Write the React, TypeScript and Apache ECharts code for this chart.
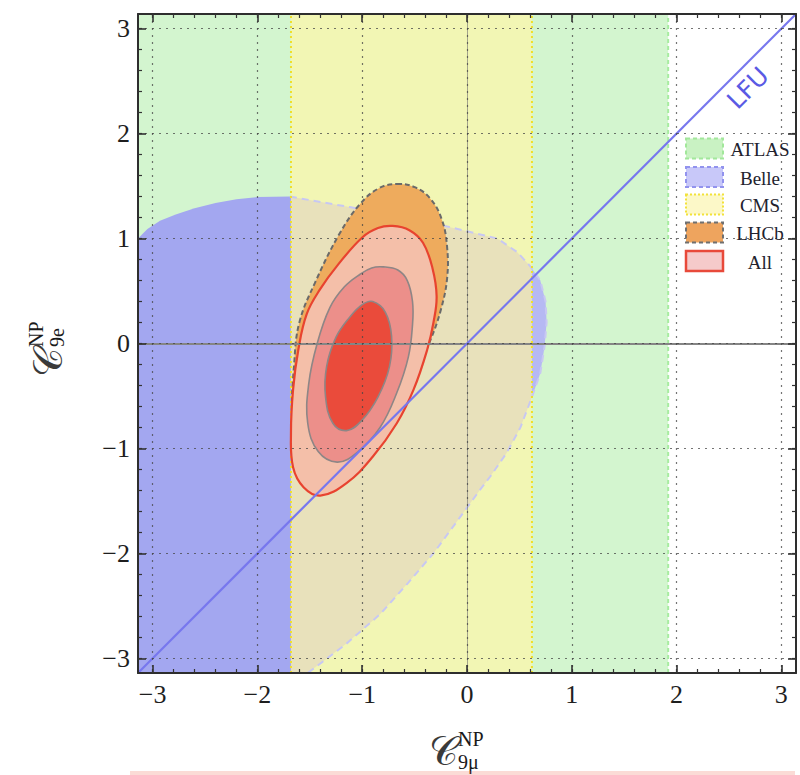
import React, { useEffect, useRef } from "react";
import * as echarts from "echarts";

// ---- axis ----
const AXIS_MIN = -3.14;
const AXIS_MAX = 3.14;
const MAJOR_TICKS = [-3, -2, -1, 0, 1, 2, 3];
const MINOR_TICKS = [
  -3, -2.8, -2.6, -2.4, -2.2, -2, -1.8, -1.6, -1.4, -1.2, -1, -0.8, -0.6, -0.4, -0.2, 0,
  0.2, 0.4, 0.6, 0.8, 1, 1.2, 1.4, 1.6, 1.8, 2, 2.2, 2.4, 2.6, 2.8, 3,
];

// ---- experiment bands (C9mu ranges) ----
const ATLAS_BAND = [-3.14, 1.92];
const CMS_BAND = [-1.68, 0.62];

// ---- Belle allowed region contour ----
const BELLE = [
  [-3.14, 1.0], [-3.05, 1.09], [-2.93, 1.17], [-2.78, 1.23], [-2.6, 1.29], [-2.4, 1.34],
  [-2.2, 1.375], [-2.0, 1.395], [-1.69, 1.4], [-1.12, 1.3],
  [-0.47, 1.19], [-0.21, 1.12], [0.0, 1.07], [0.29, 1.0], [0.48, 0.87], [0.6, 0.74],
  [0.7, 0.6], [0.75, 0.4], [0.76, 0.2], [0.74, -0.03], [0.7, -0.28], [0.62, -0.51],
  [0.51, -0.8], [0.38, -1.04], [0.22, -1.27], [0.12, -1.4], [-0.07, -1.66], [-0.32, -2.0],
  [-0.57, -2.29], [-0.83, -2.58], [-1.15, -2.86], [-1.52, -3.14], [-3.14, -3.14],
];

// ---- LHCb contour ----
const LHCB = [
  [-0.67, 1.52], [-0.5, 1.49], [-0.35, 1.38], [-0.24, 1.18], [-0.19, 0.92], [-0.19, 0.62],
  [-0.25, 0.32], [-0.35, 0.03], [-0.5, -0.3], [-0.72, -0.7], [-0.98, -1.08], [-1.25, -1.33],
  [-1.48, -1.35], [-1.62, -1.1], [-1.67, -0.7], [-1.65, -0.2], [-1.6, 0.2], [-1.45, 0.58],
  [-1.22, 1.04], [-1.02, 1.33], [-0.84, 1.48],
];

// ---- combined fit contours (3, 2, 1 sigma) ----
const ALL_3 = [
  [-0.71, 1.12], [-0.55, 1.08], [-0.42, 0.96], [-0.33, 0.72], [-0.29, 0.45], [-0.32, 0.2],
  [-0.38, -0.06], [-0.51, -0.44], [-0.67, -0.76], [-0.9, -1.08], [-1.15, -1.33], [-1.4, -1.45],
  [-1.56, -1.37], [-1.66, -1.18], [-1.68, -0.85], [-1.66, -0.44], [-1.61, -0.06], [-1.53, 0.28],
  [-1.4, 0.52], [-1.24, 0.74], [-1.0, 1.01], [-0.85, 1.1],
];
const ALL_2 = [
  [-0.8, 0.73], [-0.66, 0.7], [-0.57, 0.6], [-0.52, 0.4], [-0.52, 0.18], [-0.56, -0.13],
  [-0.67, -0.47], [-0.83, -0.8], [-1.05, -1.04], [-1.24, -1.13], [-1.42, -1.03], [-1.52, -0.76],
  [-1.51, -0.38], [-1.43, 0.0], [-1.31, 0.34], [-1.17, 0.54], [-1.02, 0.66], [-0.91, 0.72],
];
const ALL_1 = [
  [-0.9, 0.4], [-0.78, 0.3], [-0.72, 0.07], [-0.74, -0.22], [-0.85, -0.51], [-1.01, -0.74],
  [-1.15, -0.83], [-1.28, -0.76], [-1.35, -0.51], [-1.34, -0.22], [-1.25, 0.06], [-1.12, 0.25],
  [-1.0, 0.37],
];

// ---- LFU diagonal ----
const LFU = [
  [-3.14, -3.14],
  [3.14, 3.14],
];

const LEGEND_NAMES = ["ATLAS", "Belle", "CMS", "LHCb", "All"];

// ---------- helpers ----------
function intersectX(a: number[], b: number[], x: number) {
  const t = (x - a[0]) / (b[0] - a[0]);
  return [x, a[1] + t * (b[1] - a[1])];
}
function clipEdge(pts: number[][], keep: (p: number[]) => boolean, xEdge: number) {
  const out: number[][] = [];
  for (let i = 0; i < pts.length; i++) {
    const cur = pts[i];
    const prev = pts[(i + pts.length - 1) % pts.length];
    const ci = keep(cur);
    const pi = keep(prev);
    if (ci) {
      if (!pi) out.push(intersectX(prev, cur, xEdge));
      out.push(cur);
    } else if (pi) {
      out.push(intersectX(prev, cur, xEdge));
    }
  }
  return out;
}
function clipX(poly: number[][], xmin: number, xmax: number) {
  let p = clipEdge(poly, (q) => q[0] >= xmin, xmin);
  p = clipEdge(p, (q) => q[0] <= xmax, xmax);
  return p;
}
function bandRect(x: number[]) {
  return [
    [x[0], AXIS_MIN],
    [x[1], AXIS_MIN],
    [x[1], AXIS_MAX],
    [x[0], AXIS_MAX],
  ];
}

function polySeries(name: string, points: number[][], style: any, z: number, smooth = 0) {
  return {
    name,
    type: "custom",
    coordinateSystem: "cartesian2d",
    clip: true,
    silent: true,
    z,
    data: points,
    renderItem: (params: any, api: any) => {
      if (params.dataIndex !== 0) return null;
      const pts = points.map((p) => api.coord(p));
      return { type: "polygon", shape: { points: pts, smooth }, style };
    },
  };
}
function lineSeriesCustom(name: string, points: number[][], style: any, z: number) {
  return {
    name,
    type: "custom",
    coordinateSystem: "cartesian2d",
    clip: true,
    silent: true,
    z,
    data: points,
    renderItem: (params: any, api: any) => {
      if (params.dataIndex !== 0) return null;
      const pts = points.map((p) => api.coord(p));
      return { type: "polyline", shape: { points: pts }, style: { fill: "none", ...style } };
    },
  };
}

const fmt = (v: number) => (v < 0 ? "\u2212" + Math.abs(v) : String(v));
const SERIF = "'Liberation Serif', 'DejaVu Serif', serif";

function makeAxis(position: string, major: boolean, withLabels: boolean) {
  return {
    type: "value",
    min: AXIS_MIN,
    max: AXIS_MAX,
    position,
    z: 10,
    axisLine: major
      ? { show: true, onZero: false, lineStyle: { color: "#2e2e2e", width: 2 } }
      : { show: false, onZero: false },
    axisTick: {
      show: true,
      inside: true,
      length: major ? 8 : 4,
      customValues: major ? MAJOR_TICKS : MINOR_TICKS,
      lineStyle: { color: "#333", width: major ? 1.6 : 1.2 },
    },
    axisLabel: withLabels
      ? {
          show: true,
          customValues: MAJOR_TICKS,
          formatter: fmt,
          fontFamily: SERIF,
          fontSize: 26,
          color: "#1e1e1e",
          margin: 8,
        }
      : { show: false },
    splitLine: withLabels
      ? { show: true, lineStyle: { color: "rgba(70,70,70,0.75)", width: 1.2, type: [2, 5] } }
      : { show: false },
  };
}

function titleGroup(x: number, y: number, rotation: number, sub: string, supDy: number, subDy: number) {
  return {
    type: "group",
    x,
    y,
    rotation,
    children: [
      {
        type: "text",
        x: 0,
        y: 0,
        style: {
          text: "\u{1D49E}",
          font: "40px 'DejaVu Serif', 'Liberation Serif', serif",
          fill: "#3a3a3a",
          align: "center",
          verticalAlign: "middle",
        },
      },
      {
        type: "text",
        x: 15,
        y: supDy,
        style: {
          text: "NP",
          font: "20px " + SERIF,
          fill: "#1a1a1a",
          align: "left",
          verticalAlign: "middle",
        },
      },
      {
        type: "text",
        x: 15,
        y: subDy,
        style: {
          text: sub,
          font: "20px " + SERIF,
          fill: "#1a1a1a",
          align: "left",
          verticalAlign: "middle",
        },
      },
    ],
  };
}

export default function App() {
  const ref = useRef<HTMLDivElement>(null);

  useEffect(() => {
    document.body.style.margin = "0";
    if (!ref.current) return;
    const chart = echarts.init(ref.current, undefined, { renderer: "svg" });

    const belleLeft = clipX(BELLE, AXIS_MIN, CMS_BAND[0]);
    const belleMid = clipX(BELLE, CMS_BAND[0], CMS_BAND[1]);
    const belleRight = clipX(BELLE, CMS_BAND[1], AXIS_MAX);
    const belleEdge = BELLE.filter((p, i) => i < BELLE.length - 1 && p[0] >= -1.7);

    const legendStyles = [
      { fill: "#c9f2c3", stroke: "#a2e79b", lineDash: [4, 3], lineWidth: 2 },
      { fill: "#c8c8f9", stroke: "#9293ee", lineDash: [4, 3], lineWidth: 2 },
      { fill: "#fcf8c8", stroke: "#f2e23a", lineDash: [2, 2], lineWidth: 2 },
      { fill: "#eea45e", stroke: "#707070", lineDash: [4, 3], lineWidth: 2 },
      { fill: "#f5caca", stroke: "#e8493a", lineWidth: 2.5 },
    ];
    const legendY = [148.5, 177, 204.5, 232.5, 261];

    const legendEls: any[] = [];
    LEGEND_NAMES.forEach((name, i) => {
      legendEls.push({
        type: "rect",
        shape: { x: 686, y: legendY[i] - 10, width: 37, height: 20 },
        style: legendStyles[i],
        z: 100,
      });
      legendEls.push({
        type: "text",
        x: 760,
        y: legendY[i] + 1,
        style: {
          text: name,
          font: "19px " + SERIF,
          fill: "#22222e",
          align: "center",
          verticalAlign: "middle",
        },
        z: 100,
      });
    });

    const option: any = {
      animation: false,
      backgroundColor: "#ffffff",
      grid: { left: 138, top: 14, width: 658, height: 659, containLabel: false },
      xAxis: [
        makeAxis("bottom", true, true),
        makeAxis("bottom", false, false),
        makeAxis("top", true, false),
        makeAxis("top", false, false),
      ],
      yAxis: [
        makeAxis("left", true, true),
        makeAxis("left", false, false),
        makeAxis("right", true, false),
        makeAxis("right", false, false),
      ],
      series: [
        polySeries("ATLAS", bandRect(ATLAS_BAND), { fill: "#d3f5cf" }, 1),
        polySeries("CMS", bandRect(CMS_BAND), { fill: "#f2f6b4" }, 1),
        polySeries("Belle", belleLeft, { fill: "#a3a7f0" }, 2),
        polySeries("Belle-mid", belleMid, { fill: "#e8e1bb" }, 2),
        polySeries("Belle-right", belleRight, { fill: "#b6b9f3" }, 2),
        lineSeriesCustom("Belle-edge", belleEdge, { stroke: "#c8c8f2", lineWidth: 2, lineDash: [7, 5] }, 2),
        lineSeriesCustom(
          "CMS-left",
          [[CMS_BAND[0], AXIS_MIN], [CMS_BAND[0], AXIS_MAX]],
          { stroke: "#efe02a", lineWidth: 2, lineDash: [2, 3] },
          2
        ),
        lineSeriesCustom(
          "CMS-right",
          [[CMS_BAND[1], AXIS_MIN], [CMS_BAND[1], AXIS_MAX]],
          { stroke: "#efe02a", lineWidth: 2, lineDash: [2, 3] },
          2
        ),
        lineSeriesCustom(
          "ATLAS-right",
          [[ATLAS_BAND[1], AXIS_MIN], [ATLAS_BAND[1], AXIS_MAX]],
          { stroke: "#a7eca0", lineWidth: 2, lineDash: [4, 3] },
          2
        ),
        polySeries(
          "LHCb",
          LHCB,
          { fill: "#eeab5d", stroke: "#6a6a6a", lineWidth: 2, lineDash: [5, 3] },
          3,
          0.4
        ),
        polySeries("All-3", ALL_3, { fill: "#f4bfa9", stroke: "#e8432f", lineWidth: 2.2 }, 4, 0.4),
        polySeries("All-2", ALL_2, { fill: "#ec8f8a", stroke: "#8e8686", lineWidth: 1.6 }, 4, 0.4),
        polySeries("All-1", ALL_1, { fill: "#ea4b3b", stroke: "#8e8686", lineWidth: 1.6 }, 4, 0.4),
        {
          name: "LFU",
          type: "line",
          data: LFU,
          symbol: "none",
          silent: true,
          z: 6,
          lineStyle: { color: "#7777ee", width: 2.2 },
          markLine: {
            silent: true,
            symbol: "none",
            label: { show: false },
            lineStyle: { color: "#858585", width: 2, type: "solid" },
            data: [
              { yAxis: 0 },
              { xAxis: 0, lineStyle: { color: "rgba(110,110,110,0.6)", width: 1, type: "solid" } },
            ],
          },
        },
      ],
      graphic: [
        {
          type: "text",
          x: 748,
          y: 88,
          rotation: Math.PI / 4,
          style: {
            text: "LFU",
            font: "25px 'DejaVu Sans', 'Liberation Sans', sans-serif",
            fill: "#5a5ae4",
            align: "center",
            verticalAlign: "middle",
          },
          z: 100,
        },
        ...legendEls,
        titleGroup(443, 751, 0, "9\u03bc", -12, 11),
        titleGroup(48, 362, Math.PI / 2, "9e", -12, 9),
        {
          type: "rect",
          shape: { x: 130, y: 771, width: 665, height: 4 },
          style: { fill: "rgba(235,90,70,0.22)" },
          z: 100,
        },
      ],
    };

    chart.setOption(option);
    return () => chart.dispose();
  }, []);

  return <div ref={ref} style={{ width: 800, height: 775 }} />;
}
